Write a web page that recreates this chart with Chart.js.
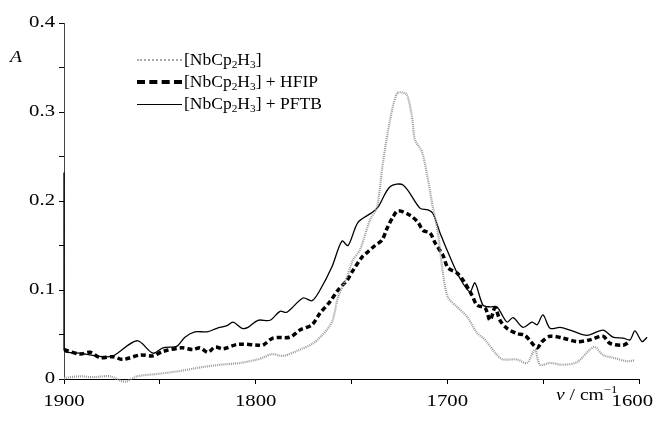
<!DOCTYPE html>
<html>
<head>
<meta charset="utf-8">
<script src="https://cdn.jsdelivr.net/npm/chart.js@4"></script>
<style>
  body { margin: 0; background: #fff; }
  #wrap { position: relative; width: 655px; height: 430px; font-family: "Liberation Serif", serif; color: #000; }
  #wrap canvas { position: absolute; left: 0; top: 0; }
  .lbl { position: absolute; font-size: 17px; white-space: nowrap; transform: scaleX(1.15); transform-origin: left center; }
  .legend { position: absolute; left: 137px; top: 49px; font-size: 17px; }
  .row { height: 22px; display: flex; align-items: center; }
  .row span.t { display: inline-block; transform: scaleX(1.03); transform-origin: left center; }
  .swatch { width: 45px; margin-right: 2px; }
  sub { font-size: 11px; vertical-align: -3px; line-height: 0; }
  sup { font-size: 11px; vertical-align: 7px; line-height: 0; }
</style>
</head>
<body>
<div id="wrap">
  <canvas id="myChart" width="655" height="430"></canvas>
  <div class="lbl" style="left:10px; top:47px; font-style:italic;">A</div>
  <div class="lbl" style="left:556px; top:385px;"><i>ν</i> / cm<sup>−1</sup></div>
  <div class="legend">
    <div class="row"><span class="swatch" style="border-top:2px dotted #aaa;"></span><span class="t">[NbCp<sub>2</sub>H<sub>3</sub>]</span></div>
    <div class="row"><span class="swatch" style="border-top:4px dashed #000;"></span><span class="t">[NbCp<sub>2</sub>H<sub>3</sub>] + HFIP</span></div>
    <div class="row"><span class="swatch" style="border-top:1.3px solid #000;"></span><span class="t">[NbCp<sub>2</sub>H<sub>3</sub>] + PFTB</span></div>
  </div>
</div>
<script>
// spectra (wavenumber in cm-1, absorbance)
const baseX = [1900, 1891.7, 1884.9, 1876, 1868.2, 1861.9, 1849.9, 1839.5, 1829, 1818.6, 1808.2, 1799, 1796.2,
  1791.5, 1785.7, 1776.9, 1770.1, 1765.4, 1760.2, 1757, 1752.3, 1749.2, 1745.6, 1740.3, 1736.7, 1733.6, 1729.9,
  1726.3, 1723.6, 1721, 1718.4, 1716.9, 1713.2, 1710.1, 1708, 1704.9, 1702.3, 1699.7, 1694.9, 1689.7, 1684.5,
  1680.3, 1674.1, 1671, 1663.7, 1658.4, 1654.3, 1651.7, 1646.4, 1639.7, 1632.3, 1625.6, 1622.9, 1618.8, 1613.6,
  1606.3, 1602.1];
const baseA = [0.001, 0.003, 0.002, 0.003, -0.003, 0.003, 0.006, 0.009, 0.013, 0.016, 0.018, 0.022, 0.024,
  0.028, 0.026, 0.033, 0.040, 0.049, 0.064, 0.092, 0.115, 0.134, 0.145, 0.179, 0.193, 0.243, 0.291,
  0.321, 0.322, 0.319, 0.294, 0.269, 0.255, 0.224, 0.198, 0.164, 0.119, 0.092, 0.081, 0.070, 0.052,
  0.044, 0.027, 0.022, 0.022, 0.018, 0.033, 0.016, 0.018, 0.016, 0.019, 0.033, 0.036, 0.027, 0.024,
  0.020, 0.021];

const hfipX = [1900, 1891.7, 1886.4, 1881.2, 1874.4, 1869.2, 1860.3, 1853.6, 1848.4, 1838.4, 1832.7, 1829, 1824.9,
  1821.2, 1817, 1809.2, 1798.8, 1796.2, 1791, 1782.1, 1776.9, 1770.6, 1766.4, 1761.2, 1757, 1752.3, 1749.2,
  1744.5, 1741.4, 1737.7, 1734.1, 1731.5, 1728.4, 1725.7, 1719.5, 1715.3, 1712.7, 1709, 1706.4, 1702.3, 1699.7,
  1694.9, 1691.8, 1687.1, 1684.5, 1680.3, 1677.7, 1675.1, 1672.5, 1668.9, 1663.7, 1659.5, 1653.2, 1650.6,
  1646.4, 1639.7, 1632.3, 1625.6, 1618.8, 1615.1, 1608.3, 1604.7];
const hfipA = [0.033, 0.028, 0.030, 0.024, 0.025, 0.022, 0.027, 0.026, 0.031, 0.035, 0.033, 0.035, 0.030,
  0.036, 0.034, 0.039, 0.038, 0.038, 0.046, 0.047, 0.055, 0.061, 0.074, 0.087, 0.100, 0.111, 0.122,
  0.137, 0.143, 0.150, 0.156, 0.169, 0.182, 0.189, 0.184, 0.176, 0.167, 0.164, 0.153, 0.139, 0.125,
  0.119, 0.111, 0.094, 0.083, 0.080, 0.066, 0.080, 0.066, 0.057, 0.051, 0.049, 0.035, 0.042,
  0.048, 0.046, 0.042, 0.044, 0.048, 0.040, 0.038, 0.042];

const pftbX = [1900, 1900, 1891.7, 1879.7, 1874.4, 1861.9, 1853.6, 1848.4, 1841, 1836.9, 1831.7, 1825.4, 1820.2,
  1815, 1811.8, 1807.1, 1804, 1798.8, 1792.5, 1787.3, 1783.7, 1775.3, 1770.6, 1766.4, 1760.2, 1755, 1751.8,
  1746.6, 1739.3, 1736.2, 1729.9, 1723.1, 1714.3, 1710.1, 1707.5, 1703.8, 1698.6, 1693.4, 1688.2, 1685.6,
  1681.4, 1677.7, 1674.1, 1668.9, 1665.7, 1660.5, 1655.8, 1653.2, 1650.1, 1646.4, 1641.2, 1636, 1627.1,
  1618.8, 1613.6, 1608.3, 1604.7, 1602.1, 1598.4, 1595.8];
const pftbA = [0.232, 0.033, 0.029, 0.025, 0.026, 0.043, 0.029, 0.035, 0.037, 0.047, 0.053, 0.053, 0.057,
  0.060, 0.064, 0.057, 0.058, 0.066, 0.066, 0.076, 0.075, 0.091, 0.088, 0.100, 0.126, 0.155, 0.150,
  0.176, 0.187, 0.193, 0.216, 0.218, 0.192, 0.190, 0.186, 0.164, 0.137, 0.113, 0.098, 0.108,
  0.083, 0.081, 0.081, 0.064, 0.069, 0.058, 0.064, 0.061, 0.072, 0.057, 0.058, 0.055, 0.049,
  0.055, 0.047, 0.046, 0.044, 0.054, 0.042, 0.047];

const xTicks = [1900, 1800, 1700, 1600];
const yTicks = [0, 0.1, 0.2, 0.3, 0.4];

const pts = (xs, ys) => xs.map((x, i) => ({ x: x, y: ys[i] }));

// the printed labels are a little wider than plain Times, so stretch them
const tickLabels = {
  id: 'tickLabels',
  afterDraw(chart) {
    const c = chart.ctx;
    const sx = 1.22;
    c.save();
    c.fillStyle = '#000';
    c.font = '17px "Liberation Serif"';
    c.textBaseline = 'middle';
    yTicks.forEach(v => {
      const py = chart.scales.y.getPixelForValue(v);
      const t = String(v);
      const w = c.measureText(t).width * sx;
      c.save();
      c.translate(55 - w, py);
      c.scale(sx, 1);
      c.fillText(t, 0, 0);
      c.restore();
    });
    xTicks.forEach(v => {
      const px = chart.scales.x.getPixelForValue(v);
      const t = String(v);
      const w = c.measureText(t).width * sx;
      const left = Math.min(px - w / 2, chart.width - w - 2);
      c.save();
      c.translate(left, 402);
      c.scale(sx, 1);
      c.fillText(t, 0, 0);
      c.restore();
    });
    c.restore();
  }
};

const ctx = document.getElementById('myChart');
const myChart = new Chart(ctx, {
  type: 'line',
  data: {
    datasets: [{
      label: '[NbCp2H3]',
      data: pts(baseX, baseA),
      borderColor: '#999',
      borderWidth: 2.2,
      borderDash: [1, 1],
      pointRadius: 0,
      tension: 0.3,
      clip: { left: 0, top: 0, right: 0, bottom: 4 }
    }, {
      label: '[NbCp2H3] + HFIP',
      data: pts(hfipX, hfipA),
      borderColor: '#000',
      borderWidth: 3.5,
      borderDash: [5, 3],
      pointRadius: 0,
      tension: 0.3
    }, {
      label: '[NbCp2H3] + PFTB',
      data: pts(pftbX, pftbA),
      borderColor: '#000',
      borderWidth: 1.3,
      pointRadius: 0,
      tension: 0.3,
      clip: false
    }]
  },
  plugins: [tickLabels],
  options: {
    responsive: false,
    animation: false,
    layout: { padding: { top: 23, right: 16, left: 0, bottom: 0 } },
    plugins: { legend: { display: false }, tooltip: { enabled: false } },
    scales: {
      x: {
        type: 'linear',
        reverse: true,
        min: 1600,
        max: 1900,
        afterFit: s => { s.height = 51; s.paddingRight = 0; s.paddingLeft = 0; },
        afterBuildTicks: s => { s.ticks = [1900, 1850, 1800, 1750, 1700, 1650, 1600].map(v => ({ value: v })); },
        border: { color: '#000', width: 1 },
        grid: { drawOnChartArea: false, color: '#000', tickLength: 5 },
        ticks: { font: { size: 1 }, padding: 0, autoSkip: false, maxRotation: 0, callback: () => '' }
      },
      y: {
        min: 0,
        max: 0.4,
        afterFit: s => { s.width = 64; s.paddingTop = 0; s.paddingBottom = 0; },
        afterBuildTicks: s => { s.ticks = [0, 0.05, 0.1, 0.15, 0.2, 0.25, 0.3, 0.35, 0.4].map(v => ({ value: v })); },
        border: { color: '#444', width: 1 },
        grid: { drawOnChartArea: false, color: '#000', tickLength: 5 },
        ticks: { font: { size: 1 }, padding: 0, autoSkip: false, callback: () => '' }
      }
    }
  }
});
</script>
</body>
</html>
